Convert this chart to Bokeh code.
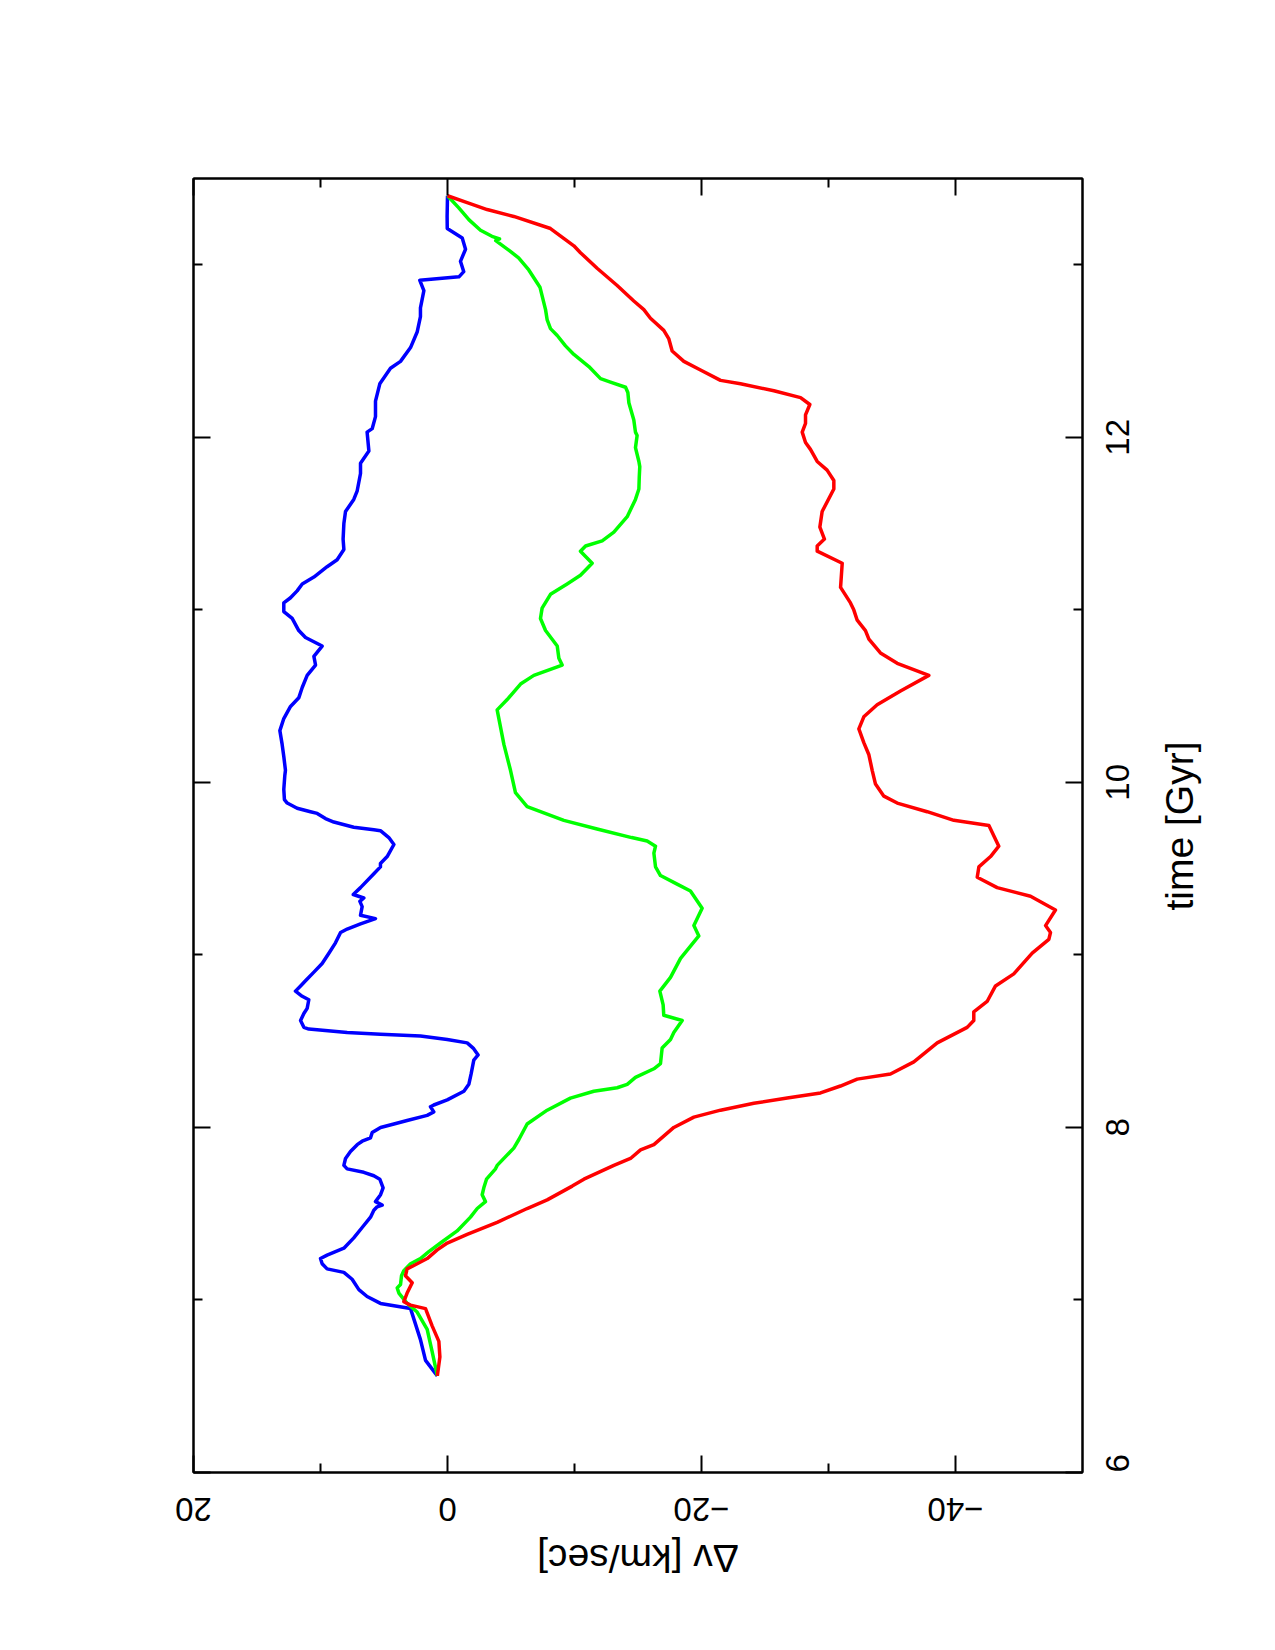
import math
from bokeh.plotting import figure
from bokeh.models import Range1d, LinearAxis, FixedTicker
from bokeh.embed import file_html
from bokeh.resources import INLINE

# ---- data (time in Gyr, delta-v in km/sec) ----
t_blue = [6.56, 6.65, 6.77, 6.95, 6.98, 7.02, 7.06, 7.12, 7.16, 7.18, 7.21, 7.24, 7.26, 7.30, 7.36,
          7.42, 7.48, 7.52, 7.54, 7.55, 7.57, 7.61, 7.65, 7.70, 7.72, 7.74, 7.76, 7.78, 7.82, 7.86,
          7.90, 7.92, 7.94, 7.97, 8.00, 8.02, 8.04, 8.07, 8.09, 8.12, 8.13, 8.16, 8.21, 8.25, 8.31,
          8.39, 8.42, 8.46, 8.49, 8.51, 8.53, 8.54, 8.55, 8.57, 8.58, 8.62, 8.66, 8.69, 8.74, 8.76,
          8.79, 8.82, 8.85, 8.90, 8.95, 9.01, 9.07, 9.13, 9.15, 9.18, 9.21, 9.23, 9.28, 9.31, 9.33,
          9.35, 9.39, 9.47, 9.51, 9.53, 9.57, 9.64, 9.68, 9.72, 9.725, 9.74, 9.77, 9.79, 9.82, 9.83,
          9.85, 9.88, 9.90, 9.96, 10.04, 10.07, 10.15, 10.22, 10.30, 10.37, 10.44, 10.49, 10.55, 10.62,
          10.68, 10.73, 10.79, 10.84, 10.88, 10.95, 10.99, 11.04, 11.07, 11.11, 11.15, 11.19, 11.25,
          11.29, 11.35, 11.41, 11.50, 11.57, 11.64, 11.69, 11.79, 11.85, 11.92, 12.03, 12.05, 12.12,
          12.21, 12.31, 12.40, 12.44, 12.52, 12.61, 12.70, 12.75, 12.85, 12.91, 12.93, 12.96, 13.02,
          13.09, 13.155, 13.21, 13.28, 13.40]
dv_blue = [0.80, 1.73, 2.13, 2.91, 5.28, 6.33, 6.98, 7.51, 8.16, 9.48, 9.87, 10.00, 9.48, 8.16, 7.38,
           6.72, 6.06, 5.80, 5.54, 5.14, 5.67, 5.27, 5.07, 5.33, 5.80, 6.59, 7.90, 8.16, 8.03, 7.64,
           7.11, 6.72, 6.06, 5.93, 5.27, 4.22, 3.18, 1.60, 1.08, 1.34, 1.08, 0.02, -1.29, -1.68, -1.86,
           -2.07, -2.41, -2.02, -1.55, 0.02, 2.13, 5.28, 7.90, 10.92, 11.31, 11.57, 11.31, 11.05, 10.92, 11.44,
           11.97, 11.57, 11.18, 10.52, 9.87, 9.34, 8.82, 8.42, 7.90, 6.85, 5.67, 6.85, 6.72, 6.90, 6.59,
           7.42, 6.85, 5.80, 5.28, 5.28, 4.75, 4.22, 4.62, 5.28, 5.80, 7.38, 8.95, 9.61, 10.26, 10.79,
           11.84, 12.62, 12.84, 12.89, 12.81, 12.76, 12.89, 13.02, 13.20, 12.89, 12.36, 11.71, 11.44, 11.05,
           10.39, 10.52, 9.87, 11.18, 11.71, 12.23, 12.89, 12.89, 12.36, 11.84, 11.44, 10.52, 9.48,
           8.69, 8.16, 8.22, 8.16, 8.03, 7.38, 7.11, 6.85, 6.85, 6.19, 6.33, 5.93, 5.67,
           5.67, 5.33, 4.49, 3.70, 2.91, 2.39, 2.13, 2.13, 1.86, 2.18, -0.90, -1.28, -1.02,
           -1.42, -1.16, 0.02, 0.03, 0.00]

t_green = [6.56, 6.70, 6.83, 6.93, 6.98, 7.04, 7.07, 7.09, 7.14, 7.17, 7.21, 7.24, 7.28, 7.33, 7.40,
           7.48, 7.53, 7.57, 7.61, 7.65, 7.70, 7.76, 7.78, 7.88, 7.93, 8.02, 8.10, 8.17, 8.21, 8.23,
           8.25, 8.29, 8.34, 8.37, 8.46, 8.51, 8.55, 8.62, 8.65, 8.71, 8.79, 8.87, 8.98, 9.11, 9.17,
           9.27, 9.37, 9.41, 9.46, 9.51, 9.59, 9.63, 9.66, 9.68, 9.73, 9.78, 9.86, 9.94, 10.07, 10.22,
           10.42, 10.48, 10.57, 10.62, 10.68, 10.72, 10.79, 10.88, 10.95, 11.01, 11.09, 11.15, 11.20,
           11.27, 11.34, 11.37, 11.40, 11.45, 11.54, 11.64, 11.70, 11.77, 11.83, 11.86, 11.94, 12.01,
           12.03, 12.10, 12.20, 12.26, 12.29, 12.32, 12.34, 12.41, 12.48, 12.53, 12.59, 12.63, 12.68,
           12.74, 12.87, 12.97, 13.04, 13.08, 13.14, 13.15, 13.165, 13.20, 13.26, 13.33, 13.40]
dv_green = [0.80, 1.21, 1.60, 2.39, 3.18, 3.83, 3.96, 3.70, 3.62, 3.44, 2.91, 2.13, 1.47, 0.55, -0.76,
            -1.81, -2.34, -2.99, -2.73, -2.86, -3.07, -3.78, -3.91, -5.22, -5.62, -6.27, -7.85, -9.68, -11.52, -13.36,
            -14.15, -14.80, -16.25, -16.77, -16.90, -17.56, -17.82, -18.48, -17.03, -16.98, -16.72, -17.56, -18.35, -19.79, -19.40,
            -20.05, -19.13, -18.08, -16.77, -16.38, -16.25, -16.38, -15.72, -14.50, -11.78, -9.16, -6.27, -5.35, -4.96, -4.44,
            -3.91, -4.70, -5.75, -6.80, -9.03, -8.77, -8.64, -7.72, -7.32, -7.45, -8.11, -9.42, -10.47,
            -11.39, -10.47, -10.87, -12.18, -13.10, -14.15, -14.80, -15.07, -15.10, -15.14, -15.07, -14.80, -14.93,
            -14.80, -14.67, -14.28, -14.20, -14.02, -12.83, -12.05, -11.13, -9.95, -9.29, -8.64, -8.11, -7.85,
            -7.72, -7.28, -6.40, -5.60, -4.90, -3.80, -4.10, -3.50, -2.60, -1.70, -0.89, 0.00]

t_red = [6.56, 6.67, 6.76, 6.85, 6.95, 6.97, 6.99, 7.04, 7.10, 7.14, 7.18, 7.20, 7.24, 7.29, 7.33,
         7.38, 7.45, 7.53, 7.58, 7.66, 7.70, 7.78, 7.82, 7.87, 7.90, 8.00, 8.06, 8.10, 8.14, 8.17,
         8.20, 8.24, 8.28, 8.31, 8.38, 8.49, 8.58, 8.62, 8.67, 8.73, 8.82, 8.89, 9.01, 9.09, 9.13,
         9.17, 9.26, 9.34, 9.39, 9.45, 9.51, 9.57, 9.63, 9.75, 9.78, 9.83, 9.88, 9.92, 9.99, 10.07,
         10.16, 10.23, 10.31, 10.38, 10.45, 10.53, 10.62, 10.69, 10.75, 10.83, 10.88, 10.94, 11.00,
         11.04, 11.13, 11.27, 11.34, 11.37, 11.41, 11.48, 11.57, 11.70, 11.75, 11.81, 11.86, 11.93,
         11.97, 12.03, 12.08, 12.13, 12.19, 12.23, 12.27, 12.31, 12.33, 12.39, 12.44, 12.50, 12.57,
         12.62, 12.69, 12.74, 12.79, 12.88, 12.98, 13.07, 13.11, 13.21, 13.28, 13.32, 13.36, 13.40]
dv_red = [0.80, 0.60, 0.68, 1.21, 1.73, 2.91, 3.44, 3.18, 2.78, 3.31, 3.18, 2.65, 1.60, 0.81, 0.02,
          -1.55, -3.91, -6.27, -7.85, -9.82, -10.74, -13.10, -14.41, -15.20, -16.25, -17.82, -19.40, -21.50, -24.12, -26.75,
          -29.37, -30.94, -32.26, -34.88, -36.72, -38.56, -40.92, -41.44, -41.44, -42.49, -43.15, -44.59, -46.04, -47.35, -47.48,
          -47.09, -47.87, -45.91, -43.28, -41.71, -41.84, -42.76, -43.41, -42.63, -39.87, -37.77, -35.41, -34.36, -33.70, -33.44,
          -33.18, -32.78, -32.39, -32.78, -33.83, -35.67, -37.90, -35.41, -34.09, -33.18, -32.91, -32.26, -31.99,
          -31.73, -30.95, -31.08, -29.11, -29.11, -29.68, -29.32, -29.50, -30.42, -30.42, -29.89, -29.11, -28.58,
          -28.19, -27.93, -28.19, -28.19, -28.53, -27.80, -25.70, -23.07, -21.50, -19.92, -18.61, -17.69, -17.43,
          -17.03, -15.98, -15.46, -14.67, -13.36, -11.78, -10.47, -9.95, -8.11, -5.22, -3.12, -1.55, 0.00]

dv_ticks = [20, 0, -20, -40]
dv_minor = [10, -10, -30]
dv_tick_labels = ["20", "0", "\u221220", "\u221240"]
t_ticks = [6, 8, 10, 12]
t_minor = [7, 9, 11, 13]
t_tick_labels = ["6", "8", "10", "12"]
x_title = "\u0394v [km/sec]"
y_title = "time [Gyr]"

FONT = "Liberation Sans"
TICK_PX = 33
TITLE_PX = 39
X0, X1 = 20, -50
Y0, Y1 = 6, 13.5
FRAME_W, FRAME_H = 889, 1294
PX_X = FRAME_W / abs(X1 - X0)   # pixels per km/sec
PX_Y = FRAME_H / abs(Y1 - Y0)   # pixels per Gyr

# approximate advance widths (em) of Liberation Sans, used only to centre rotated labels
ADV = {"0": .556, "1": .556, "2": .556, "4": .556, "6": .556, "8": .556, "\u2212": .584,
       "\u0394": .668, "v": .5, " ": .278, "[": .278, "]": .278, "k": .5, "m": .833, "/": .278,
       "s": .5, "e": .556, "c": .5, "t": .278, "i": .222, "G": .778, "y": .5, "r": .333}


def text_w(s, px):
    return sum(ADV.get(ch, .556) for ch in s) * px


p = figure(width=1275, height=1650, output_backend="svg", toolbar_location=None,
           x_range=Range1d(X0, X1), y_range=Range1d(Y0, Y1),
           min_border_left=193, min_border_right=193, min_border_top=178, min_border_bottom=178,
           x_axis_location=None, y_axis_location=None)
p.background_fill_color = "white"
p.border_fill_color = "white"
p.outline_line_color = "black"
p.outline_line_width = 2
p.xgrid.visible = False
p.ygrid.visible = False


def tick_axis(ticks, minor):
    ax = LinearAxis()
    ax.ticker = FixedTicker(ticks=ticks, minor_ticks=minor)
    ax.axis_line_color = "black"
    ax.axis_line_width = 2
    ax.major_tick_line_width = 2
    ax.minor_tick_line_width = 2
    ax.major_tick_in = 17
    ax.major_tick_out = 0
    ax.minor_tick_in = 9
    ax.minor_tick_out = 0
    ax.major_label_standoff = 0
    ax.major_label_text_font_size = "1px"
    ax.major_label_overrides = {k: "" for k in ticks}
    return ax


def label_axis(positions, texts, px, orient, standoff):
    ax = LinearAxis()
    ax.ticker = FixedTicker(ticks=positions, minor_ticks=[])
    ax.axis_line_color = None
    ax.major_tick_line_color = None
    ax.minor_tick_line_color = None
    ax.major_tick_in = 0
    ax.major_tick_out = 0
    ax.minor_tick_in = 0
    ax.minor_tick_out = 0
    ax.major_label_text_font = FONT
    ax.major_label_text_font_size = "%dpx" % px
    ax.major_label_text_color = "black"
    ax.major_label_orientation = orient
    ax.major_label_standoff = standoff
    ax.major_label_overrides = dict(zip(positions, texts))
    return ax


def clamp(v, a, b):
    lo, hi = min(a, b), max(a, b)
    return min(max(v, lo), hi)


# below: upside-down labels; anchor sits at the text start (visual right edge)
x_lab_pos = [round(clamp(v - text_w(s, TICK_PX) / 2 / PX_X, X0, X1), 4)
             for v, s in zip(dv_ticks, dv_tick_labels)]
x_title_pos = [round((X0 + X1) / 2 - text_w(x_title, TITLE_PX) / 2 / PX_X, 4)]
# right: labels read bottom-to-top; anchor sits at the text start (visual bottom)
y_lab_pos = [round(clamp(v - text_w(s, TICK_PX) / 2 / PX_Y, Y0, Y1), 4)
             for v, s in zip(t_ticks, t_tick_labels)]
y_title_pos = [round(9.747 - text_w(y_title, TITLE_PX) / 2 / PX_Y, 4)]

p.add_layout(tick_axis(dv_ticks, dv_minor), "below")
p.add_layout(label_axis(x_lab_pos, dv_tick_labels, TICK_PX, -math.pi, 37), "below")
p.add_layout(label_axis(x_title_pos, [x_title], TITLE_PX, -math.pi, 23), "below")
p.add_layout(tick_axis(dv_ticks, dv_minor), "above")
p.add_layout(tick_axis(t_ticks, t_minor), "right")
p.add_layout(label_axis(y_lab_pos, t_tick_labels, TICK_PX, math.pi / 2, 35), "right")
p.add_layout(label_axis(y_title_pos, [y_title], TITLE_PX, math.pi / 2, 36), "right")
p.add_layout(tick_axis(t_ticks, t_minor), "left")

p.line(dv_blue, t_blue, line_color="#0000ff", line_width=3.5, line_join="round")
p.line(dv_green, t_green, line_color="#00ff00", line_width=3.5, line_join="round")
p.line(dv_red, t_red, line_color="#ff0000", line_width=3.5, line_join="round")

open("out.html", "w").write(file_html(p, INLINE))
